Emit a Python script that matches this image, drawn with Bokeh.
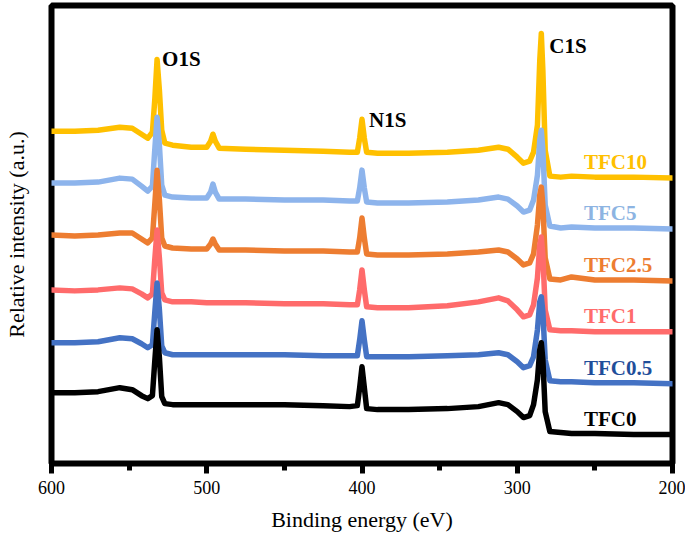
from bokeh.plotting import figure
from bokeh.models import Range1d, SingleIntervalTicker, FixedTicker
from bokeh.core.properties import value
from bokeh.embed import file_html
from bokeh.resources import INLINE

# Binding energy grid (eV)
energy = [600, 585, 570, 556, 548, 542, 538, 535, 533.5, 532, 530.5, 529, 527, 522, 510,
          500, 497.5, 496, 494.5, 492, 475, 450, 425, 408, 403, 401.5, 400, 398.5, 397, 390,
          370, 345, 325, 312, 306, 300, 296, 292, 289.5, 287, 285.5, 284.5, 283.5, 282, 279,
          272, 265, 250, 225, 200]

# Relative intensity (a.u., stacked)
tfc10 = [349, 349, 350, 353, 352, 346, 342, 348, 380, 421, 390, 350, 337, 335, 333,
         333, 339, 346, 339, 332, 331, 330, 329, 328, 328, 342, 361, 342, 328, 327,
         327, 328, 330, 333, 331, 323, 317, 319, 328, 355, 420, 447, 410, 330, 304,
         303, 304, 303, 303, 302]
tfc5 = [297, 297, 298, 302, 301, 294, 289, 294, 330, 363, 335, 295, 285, 283, 282,
        282, 288, 296, 288, 281, 281, 280, 280, 279, 279, 292, 310, 292, 278, 277,
        277, 278, 280, 283, 281, 274, 268, 270, 280, 305, 340, 350, 330, 275, 254,
        252, 253, 252, 252, 251]
tfc2_5 = [245, 244, 245, 247, 247, 241, 237, 242, 275, 310, 280, 242, 234, 232, 231,
          231, 236, 241, 236, 230, 230, 229, 229, 228, 228, 242, 262, 242, 226, 225,
          225, 226, 228, 230, 228, 221, 215, 217, 226, 255, 285, 293, 275, 222, 201,
          200, 203, 200, 200, 199]
tfc1 = [190, 189, 190, 192, 191, 186, 182, 186, 220, 250, 222, 187, 180, 178, 178,
        177, 177, 177, 177, 177, 177, 176, 176, 175, 175, 190, 210, 190, 173, 172,
        172, 174, 178, 182, 179, 170, 163, 165, 175, 202, 235, 243, 225, 170, 150,
        149, 149, 148, 148, 148]
tfc0_5 = [137, 137, 138, 142, 141, 136, 132, 135, 167, 197, 170, 134, 127, 125, 125,
          125, 125, 125, 125, 125, 125, 125, 124, 124, 124, 140, 159, 140, 123, 123,
          123, 124, 125, 127, 125, 118, 112, 114, 123, 150, 178, 183, 168, 120, 99,
          98, 98, 97, 97, 96]
tfc0 = [87, 87, 88, 92, 90, 84, 81, 84, 118, 150, 122, 83, 76, 75, 75,
        75, 75, 75, 75, 75, 75, 75, 74, 73, 74, 92, 113, 92, 71, 70,
        70, 71, 73, 77, 75, 68, 62, 64, 75, 100, 130, 137, 120, 68, 48,
        47, 46, 46, 45, 45]

series_names = ["TFC10", "TFC5", "TFC2.5", "TFC1", "TFC0.5", "TFC0"]
series_values = [tfc10, tfc5, tfc2_5, tfc1, tfc0_5, tfc0]
line_colors = ["#FFC000", "#8DB4EC", "#ED7D31", "#FF6B6B", "#4472C4", "#000000"]
label_colors = ["#FFC000", "#8DB4E2", "#ED7D31", "#FF6B6B", "#1F4E9A", "#000000"]

peak_names = ["O1S", "N1S", "C1S"]
peak_energies = [532, 400, 284.5]

SERIF = value("Liberation Serif")

p = figure(width=685, height=534, output_backend="svg", toolbar_location=None,
           x_range=Range1d(600, 200), y_range=Range1d(16, 475),
           min_border_left=50, min_border_right=13, min_border_top=5, min_border_bottom=70)
p.background_fill_color = "white"
p.border_fill_color = "white"
p.xgrid.visible = False
p.ygrid.visible = False
p.outline_line_color = "black"
p.outline_line_width = 6
p.outline_line_alpha = 1.0

xa = p.xaxis[0]
xa.ticker = SingleIntervalTicker(interval=100, num_minor_ticks=2)
xa.axis_line_color = None
xa.major_tick_line_color = "black"
xa.major_tick_line_width = 5
xa.major_tick_in = 0
xa.major_tick_out = 10
xa.minor_tick_line_color = "black"
xa.minor_tick_line_width = 5
xa.minor_tick_in = 0
xa.minor_tick_out = 7
xa.major_label_standoff = 7
xa.major_label_text_font = "Liberation Serif"
xa.major_label_text_font_size = "18px"
xa.major_label_text_color = "black"
xa.axis_label = "Binding energy (eV)"
xa.axis_label_text_font = "Liberation Serif"
xa.axis_label_text_font_size = "22px"
xa.axis_label_text_font_style = "normal"
xa.axis_label_text_color = "black"
xa.axis_label_standoff = 10

ya = p.yaxis[0]
ya.ticker = FixedTicker(ticks=[])
ya.axis_line_color = None
ya.major_tick_line_color = None
ya.minor_tick_line_color = None
ya.major_label_text_color = None
ya.major_label_standoff = 0
ya.major_tick_out = 0
ya.major_tick_in = 0
ya.axis_label = "Relative intensity (a.u.)"
ya.axis_label_text_font = "Liberation Serif"
ya.axis_label_text_font_size = "22px"
ya.axis_label_text_font_style = "normal"
ya.axis_label_text_color = "black"
ya.axis_label_standoff = 23

for vals, col in zip(series_values, line_colors):
    p.line(energy, vals, line_color=col, line_width=5.5, line_join="round", line_cap="round")

LABEL_E = 257
for name, vals, col in zip(series_names, series_values, label_colors):
    p.text(x=[LABEL_E], y=[vals[-1]], text=[name], text_color=col,
           text_font=SERIF, text_font_size="21px", text_font_style="bold",
           text_align="left", text_baseline="middle", y_offset=-16)

peak_offsets = {"O1S": (5, 0), "N1S": (7, 1), "C1S": (8, 13)}
for name, e in zip(peak_names, peak_energies):
    idx = energy.index(e)
    dx, dy = peak_offsets[name]
    p.text(x=[e], y=[tfc10[idx]], text=[name], text_color="black",
           text_font=SERIF, text_font_size="21px", text_font_style="bold",
           text_align="left", text_baseline="middle", x_offset=dx, y_offset=dy)

open("out.html", "w").write(file_html(p, INLINE))
